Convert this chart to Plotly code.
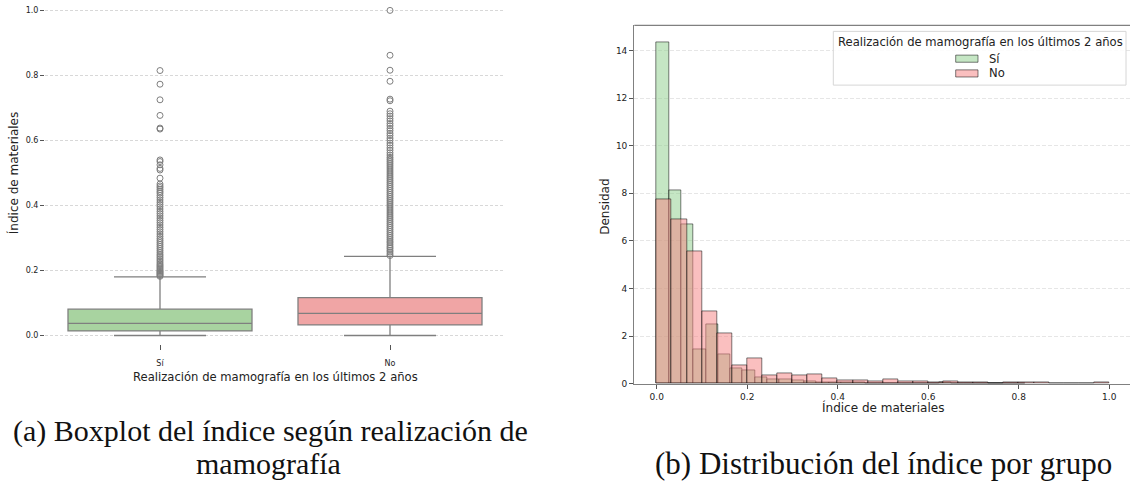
import numpy as np
import plotly.graph_objects as go

W, H = 1130, 483

# ---------------- data ----------------
groups = ["Sí", "No"]

# Boxplot summary statistics (Índice de materiales)
box_q1 = [0.014, 0.0325]
box_median = [0.037, 0.068]
box_q3 = [0.081, 0.1166]
box_lowerfence = [0.0, 0.0]
box_upperfence = [0.18, 0.2435]

si_outliers = [0.182, 0.185, 0.188, 0.191, 0.194, 0.197, 0.2, 0.204, 0.208, 0.212,
               0.216, 0.22, 0.225, 0.23, 0.235, 0.24, 0.245, 0.25, 0.256, 0.262,
               0.268, 0.274, 0.28, 0.286, 0.292, 0.298, 0.305, 0.312, 0.319, 0.326,
               0.333, 0.34, 0.347, 0.354, 0.361, 0.368, 0.375, 0.382, 0.389, 0.396,
               0.403, 0.41, 0.417, 0.424, 0.431, 0.438, 0.443, 0.449, 0.455, 0.46,
               0.466, 0.484, 0.509, 0.514, 0.525, 0.535, 0.54, 0.635, 0.638, 0.677,
               0.725, 0.773, 0.815]

no_outliers = [0.246, 0.251, 0.257, 0.262, 0.268, 0.273, 0.279, 0.285, 0.29, 0.296,
               0.302, 0.308, 0.314, 0.32, 0.326, 0.332, 0.338, 0.344, 0.35, 0.356,
               0.362, 0.368, 0.374, 0.38, 0.386, 0.392, 0.398, 0.404, 0.41, 0.416,
               0.422, 0.428, 0.434, 0.44, 0.446, 0.452, 0.458, 0.464, 0.47, 0.476,
               0.482, 0.488, 0.494, 0.5, 0.506, 0.512, 0.518, 0.524, 0.53, 0.536,
               0.542, 0.548, 0.555, 0.562, 0.57, 0.577, 0.585, 0.592, 0.6, 0.607,
               0.615, 0.622, 0.63, 0.637, 0.645, 0.652, 0.66, 0.667, 0.675, 0.682,
               0.69, 0.722, 0.727, 0.782, 0.816, 0.862, 1.0]

# Histogram densities (30 bins each, separate ranges)
si_hist_range = (0.0, 0.815)
si_density = [14.32, 8.11, 6.67, 1.43, 2.51, 1.25, 0.64, 0.54, 0.28, 0.18,
              0.16, 0.13, 0.10, 0.07, 0.06, 0.04, 0.04, 0.02, 0.02, 0.01,
              0.0, 0.0, 0.0, 0.035, 0.018, 0.0, 0.018, 0.0, 0.018, 0.018]

no_hist_range = (0.0, 1.0)
no_density = [7.73, 6.90, 5.56, 3.05, 2.12, 0.76, 1.05, 0.36, 0.42, 0.36,
              0.39, 0.22, 0.15, 0.14, 0.08, 0.18, 0.11, 0.11, 0.04, 0.11,
              0.07, 0.07, 0.0, 0.04, 0.04, 0.04, 0.0, 0.0, 0.0, 0.04]

y_ticks_box = [0.0, 0.2, 0.4, 0.6, 0.8, 1.0]
x_ticks_hist = [0.0, 0.2, 0.4, 0.6, 0.8, 1.0]
y_ticks_hist = [0, 2, 4, 6, 8, 10, 12, 14]

# ---------------- styles ----------------
FONT = "DejaVu Sans"
box_fill = ["#a8d3a0", "#f0a5a5"]
hist_fill = ["rgba(140,205,138,0.5)", "rgba(245,128,128,0.5)"]
hist_edge = "rgba(0,0,0,0.5)"
gray = "#7f7f7f"


def px(x):
    return x / W


def py(y):
    return 1 - y / H


fig = go.Figure()

# ---------------- left: boxplot ----------------
for i, g in enumerate(groups):
    fig.add_trace(go.Box(
        x=[g], q1=[box_q1[i]], median=[box_median[i]], q3=[box_q3[i]],
        lowerfence=[box_lowerfence[i]], upperfence=[box_upperfence[i]],
        fillcolor=box_fill[i], line=dict(color=gray, width=1.3),
        width=0.8, whiskerwidth=0.5, boxpoints=False,
        xaxis="x", yaxis="y", showlegend=False, hoverinfo="skip"))

for g, outs in zip(groups, [si_outliers, no_outliers]):
    fig.add_trace(go.Scatter(
        x=[g] * len(outs), y=outs, mode="markers",
        marker=dict(symbol="circle-open", size=6, color=gray, line=dict(width=1, color=gray)),
        xaxis="x", yaxis="y", showlegend=False, hoverinfo="skip"))

# ---------------- right: histogram ----------------
for i, (rng, dens) in enumerate([(si_hist_range, si_density), (no_hist_range, no_density)]):
    edges = np.linspace(rng[0], rng[1], len(dens) + 1)
    centers = (edges[:-1] + edges[1:]) / 2
    fig.add_trace(go.Bar(
        x=centers, y=dens, width=edges[1] - edges[0],
        marker=dict(color=hist_fill[i], line=dict(color=hist_edge, width=1)),
        name=groups[i], xaxis="x2", yaxis="y2", showlegend=False, hoverinfo="skip"))

tickfont_l = dict(family=FONT, size=8, color="#222")
tickfont_r = dict(family=FONT, size=9, color="#222")

fig.update_layout(
    width=W, height=H, margin=dict(l=0, r=0, t=0, b=0),
    paper_bgcolor="white", plot_bgcolor="white",
    barmode="overlay", bargap=0,
    font=dict(family=FONT, color="#222"),
    xaxis=dict(domain=[px(45), px(505)], type="category",
               categoryorder="array", categoryarray=groups,
               range=[-0.5, 1.5], showgrid=False, zeroline=False, showline=False,
               ticks="outside", ticklen=5, tickcolor="#555", tickwidth=1,
               tickfont=tickfont_l, anchor="y", ticklabelstandoff=6),
    yaxis=dict(domain=[py(348), 1], range=[-0.0274, 1.032],
               tickvals=y_ticks_box, tickformat=".1f",
               showgrid=True, gridcolor="#d8d8d8", griddash="3px,2px", gridwidth=1,
               zeroline=False, showline=False,
               ticks="outside", ticklen=4, tickcolor="#555", tickwidth=1,
               tickfont=tickfont_l, anchor="x"),
    xaxis2=dict(domain=[px(634.3), 1], range=[-0.0495, 1.0458],
                tickvals=x_ticks_hist, tickformat=".1f",
                showgrid=False, zeroline=False, showline=True,
                linecolor="#808080", linewidth=1.3,
                ticks="outside", ticklen=4, tickcolor="#555", tickwidth=1,
                tickfont=tickfont_r, anchor="y2"),
    yaxis2=dict(domain=[py(387.7), py(25.7)], range=[0, 15.05],
                tickvals=y_ticks_hist,
                showgrid=True, gridcolor="#e6e6e6", griddash="4px,2px", gridwidth=1,
                zeroline=False, showline=True,
                linecolor="#808080", linewidth=1.3,
                ticks="outside", ticklen=4, tickcolor="#555", tickwidth=1,
                tickfont=tickfont_r, anchor="x2"),
)

# top spine of histogram
fig.add_shape(type="line", xref="paper", yref="paper",
              x0=px(634.3), x1=1, y0=py(25.7), y1=py(25.7),
              line=dict(color="#808080", width=1.3))

# axis titles
ann = []
ann.append(dict(text="Realización de mamografía en los últimos 2 años", x=px(275), y=py(381),
                font=dict(family=FONT, size=11.6, color="#222")))
ann.append(dict(text="Índice de materiales", x=px(13), y=py(175), textangle=-90,
                font=dict(family=FONT, size=12, color="#222")))
ann.append(dict(text="Índice de materiales", x=px(883), y=py(412),
                font=dict(family=FONT, size=12, color="#222")))
ann.append(dict(text="Densidad", x=px(605), y=py(209), textangle=-90,
                font=dict(family=FONT, size=12, color="#222")))

# legend (manual, centred entries)
fig.add_shape(type="rect", xref="paper", yref="paper",
              x0=px(833.3), x1=px(1126), y0=py(86), y1=py(31.7),
              line=dict(color="#d6d6d6", width=1), fillcolor="rgba(255,255,255,0.85)")
ann.append(dict(text="Realización de mamografía en los últimos 2 años", x=px(980.5), y=py(42),
                font=dict(family=FONT, size=11.6, color="#222")))
for i, (g, yc) in enumerate(zip(groups, [59.3, 74.2])):
    fig.add_shape(type="rect", xref="paper", yref="paper",
                  x0=px(955.7), x1=px(978), y0=py(yc + 3.6), y1=py(yc - 3.6),
                  line=dict(color=hist_edge, width=1), fillcolor=hist_fill[i])
    ann.append(dict(text=g, x=px(986.5), y=py(yc), xanchor="left",
                    font=dict(family=FONT, size=11.6, color="#222")))

# captions
CAP = dict(family="Liberation Serif", size=30, color="#111")
CAP_B = dict(family="Liberation Serif", size=31, color="#111")
ann.append(dict(text="(a) Boxplot del índice según realización de", x=px(270), y=py(436), font=CAP))
ann.append(dict(text="mamografía", x=px(268), y=py(468), font=CAP))
ann.append(dict(text="(b) Distribución del índice por grupo", x=px(883), y=py(468), font=CAP_B))

for a in ann:
    a.setdefault("xanchor", "center")
    a.update(xref="paper", yref="paper", yanchor="middle", showarrow=False)
    fig.add_annotation(**a)

fig.write_html("out.html")
